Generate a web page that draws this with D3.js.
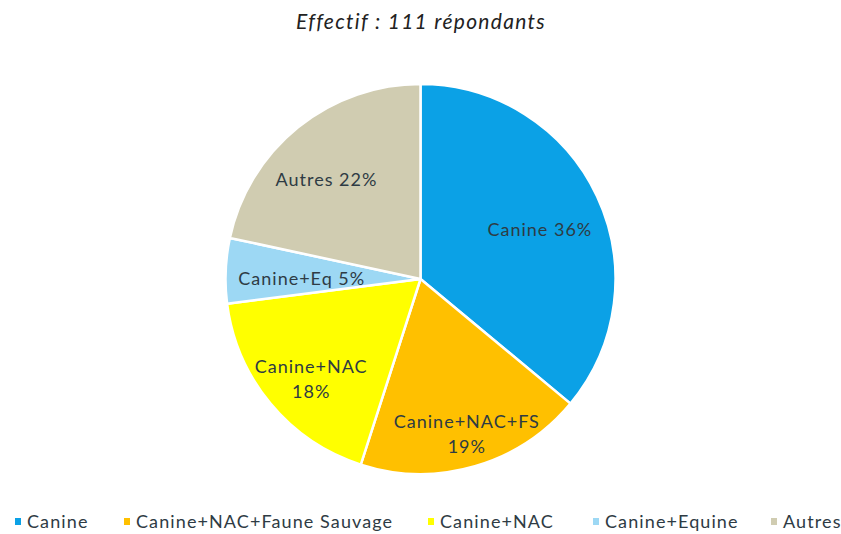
<!DOCTYPE html>
<html>
<head>
<meta charset="utf-8">
<script src="https://cdn.jsdelivr.net/npm/d3@7"></script>
<style>
  html, body { margin: 0; padding: 0; background: #fff; }
  svg { display: block; }
</style>
</head>
<body>
<svg id="chart" width="841" height="534"></svg>
<script>
// ---- data ----
const title = "Effectif : 111 répondants";
const categories = ["Canine", "Canine+NAC+Faune Sauvage", "Canine+NAC", "Canine+Equine", "Autres"];
const shortLabels = [["Canine 36%"], ["Canine+NAC+FS", "19%"], ["Canine+NAC", "18%"], ["Canine+Eq 5%"], ["Autres 22%"]];
const counts = [40, 21, 20, 6, 24];
const colors = ["#0BA1E6", "#FFC000", "#FFFF00", "#9DD8F4", "#D0CCB1"];

// ---- layout ----
const svg = d3.select("#chart");
const cx = 420.5, cy = 279, R = 195;
const FONT = "Lato, 'Open Sans', sans-serif";
const labelFrac = [0.662, 0.83, 0.761, 0.609, 0.70];
const labelShiftDeg = [2.8, -0.4, -2.8, -2.1, -4.6];

svg.append("text")
  .attr("x", 421).attr("y", 29)
  .attr("text-anchor", "middle")
  .attr("font-family", FONT)
  .attr("font-style", "italic")
  .attr("font-size", 21)
  .attr("letter-spacing", 1.3)
  .attr("fill", "#222")
  .text(title);

const data = categories.map((c, i) => ({ cat: c, value: counts[i], i }));
const pie = d3.pie().value(d => d.value).sort(null);
const arcs = pie(data);
const arc = d3.arc().innerRadius(0).outerRadius(R);

const g = svg.append("g").attr("transform", `translate(${cx},${cy})`);
g.selectAll("path").data(arcs).join("path")
  .attr("d", arc)
  .attr("fill", d => colors[d.data.i])
  .attr("stroke", "#fff")
  .attr("stroke-width", 2.5)
  .attr("stroke-linejoin", "round");

arcs.forEach(a => {
  const i = a.data.i;
  const r = R * labelFrac[i];
  const ang = (a.startAngle + a.endAngle) / 2 + labelShiftDeg[i] * Math.PI / 180;
  const x = r * Math.sin(ang), y = -r * Math.cos(ang);
  const lines = shortLabels[i];
  const lh = 25;
  const t = g.append("text")
    .attr("text-anchor", "middle")
    .attr("font-family", FONT)
    .attr("font-size", 18)
    .attr("letter-spacing", 1.0)
    .attr("fill", "#2E3B44");
  lines.forEach((ln, k) => {
    t.append("tspan")
      .attr("x", x)
      .attr("y", y + (k - (lines.length - 1) / 2) * lh)
      .attr("dy", "0.35em")
      .text(ln);
  });
});

// ---- legend ----
const legX = [15, 124, 428, 593, 771];
const legY = 522;
const leg = svg.append("g");
categories.forEach((c, i) => {
  leg.append("rect")
    .attr("x", legX[i]).attr("y", legY - 4)
    .attr("width", 6).attr("height", 7)
    .attr("fill", colors[i]);
  leg.append("text")
    .attr("x", legX[i] + 12).attr("y", legY)
    .attr("dy", "0.35em")
    .attr("font-family", FONT)
    .attr("font-size", 18)
    .attr("letter-spacing", 1.1)
    .attr("fill", "#2E3B44")
    .text(c);
});
</script>
</body>
</html>
